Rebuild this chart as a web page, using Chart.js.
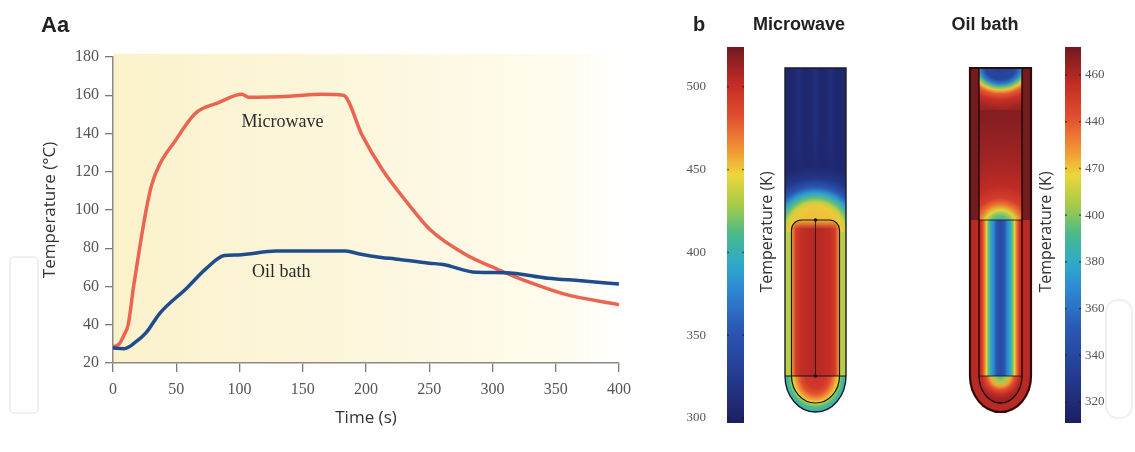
<!DOCTYPE html>
<html>
<head>
<meta charset="utf-8">
<script src="https://cdn.jsdelivr.net/npm/chart.js@4.4.1/dist/chart.umd.min.js"></script>
<style>
  html, body { margin: 0; padding: 0; background: #fff; }
  .box { position: absolute; top: 0; height: 452px; }
</style>
</head>
<body>
<div class="box" style="left:0;width:680px"><canvas id="tempChart"></canvas></div>
<div class="box" style="left:680px;width:455px"><canvas id="fieldChart"></canvas></div>
<script>
// panel A: heating curves
const timeMicrowave = [0, 5, 9, 12, 16.5, 22, 26.5, 30.5, 37, 49, 65, 83, 102, 107, 140, 165, 182, 197, 213, 233, 251, 278, 304, 330, 357, 400]
const tempMicrowave = [28.5, 30, 35, 40, 61, 84, 101, 113, 124, 136, 150.5, 156, 160.5, 159, 159.5, 160.5, 160, 139, 121, 103.5, 89.5, 77, 69, 62, 56, 50.5]
const timeOilBath = [0, 9, 18, 26, 37, 58, 74, 88, 99, 129, 184, 195, 212, 223, 250, 261, 287, 310, 344, 370, 400]
const tempOilBath = [27.8, 27.5, 31, 35.7, 46, 59, 69.6, 76.2, 76.5, 78.5, 78.5, 77, 75.2, 74.4, 72.2, 71.5, 67.4, 67.2, 64.3, 63, 61.3]
const timeTicks = [0, 50, 100, 150, 200, 250, 300, 350, 400]
const tempTicks = [20, 40, 60, 80, 100, 120, 140, 160, 180]
const labelText = ['Microwave', 'Oil bath']
const labelTime = [134, 133]
const labelTemp = [146, 67.5]

// panel B: simulated temperature fields (K)
const microwaveRange = [297, 524]
const oilBathRange = [311, 472]
const microwaveTicks = [300, 350, 400, 450, 500]
const oilBathTicks = [320, 340, 360, 380, 400, 420, 440, 460]
const oilBathTickLabels = ['320', '340', '360', '380', '400', '470', '440', '460']
const colourStops = [
    [0.00, '#1c1f5f'], [0.12, '#243a8e'], [0.25, '#2a58b4'], [0.35, '#2e86d2'],
    [0.42, '#2ea8cc'], [0.50, '#48b98e'], [0.58, '#a6cc48'], [0.66, '#ecd63a'],
    [0.73, '#f19236'], [0.81, '#e2512f'], [0.90, '#c52c26'], [1.00, '#6f1a1f']
]
// microwave tube: [distance px, K]
const mwAirTemp = 306
const mwGlow = [[0, 455], [26, 450], [30, 436], [34, 415], [39, 388], [45, 352], [54, 320], [66, 306]]
const mwRingTemp = 433
const mwColumn = [[0, 506], [0.6, 501], [0.82, 492], [0.92, 472], [1, 452]]
const mwBottom = [[0, 498], [10, 494], [15, 482], [19, 464], [22.5, 448], [24.5, 425], [27, 410], [30.5, 400]]
// oil bath tube
const oilTopWallTemp = 471
const oilLowWallTemp = 458
const oilUpperTemp = 468
const oilCap = [[0, 335], [12, 340], [16, 365], [19, 395], [22, 420], [26, 440], [32, 455], [42, 464], [55, 468]]
const oilGlow = [[0, 380], [10, 395], [16, 415], [22, 435], [28, 449], [40, 457], [65, 462], [110, 468]]
const oilLower = [[0, 342], [4, 350], [7, 368], [10, 382], [12, 396], [14, 415], [16, 432], [18, 446], [20, 455], [21.5, 460]]
const oilBottom = [[0, 390], [6, 405], [10, 425], [14, 442], [18, 455], [22, 462], [26, 465]]

const tube = { top: 68, zoneTop: 220, neck: 376, bottom: 412, hw: 30.5 }

Chart.defaults.font.family = '"Liberation Serif", serif'

const plotBackground = {
    id: 'plotBackground',
    beforeDraw(chart) {
        const { ctx, chartArea: a } = chart
        const g = ctx.createLinearGradient(a.left, 0, a.right + 30, 0)
        g.addColorStop(0, '#fbf2cb')
        g.addColorStop(0.45, '#fcf6dc')
        g.addColorStop(0.85, '#fefcee')
        g.addColorStop(1, 'rgba(255,255,255,0)')
        ctx.save()
        ctx.fillStyle = g
        ctx.fillRect(a.left, a.top - 3, a.right - a.left + 30, a.bottom - a.top + 3)
        ctx.restore()
    }
}

const curveLabels = {
    id: 'curveLabels',
    afterDatasetsDraw(chart) {
        const { ctx, scales: { x, y } } = chart
        ctx.save()
        ctx.font = '18px "Liberation Serif"'
        ctx.fillStyle = '#2b2b2b'
        ctx.textAlign = 'center'
        ctx.textBaseline = 'middle'
        labelText.forEach((t, i) => ctx.fillText(t, x.getPixelForValue(labelTime[i]), y.getPixelForValue(labelTemp[i])))
        ctx.font = 'bold 22px "Liberation Sans"'
        ctx.fillStyle = '#222'
        ctx.textAlign = 'left'
        ctx.textBaseline = 'alphabetic'
        ctx.fillText('Aa', 41, 32)
        ctx.strokeStyle = '#ececec'
        ctx.lineWidth = 1.5
        ctx.beginPath()
        ctx.roundRect(10, 257, 28, 156, 4)
        ctx.stroke()
        ctx.restore()
    }
}

new Chart(document.getElementById('tempChart'), {
    type: 'line',
    data: {
        datasets: [
            {
                label: 'Oil bath',
                data: timeOilBath.map((t, i) => ({ x: t, y: tempOilBath[i] })),
                borderColor: '#1f4c8c',
                borderWidth: 3.5,
                pointRadius: 0,
                cubicInterpolationMode: 'monotone'
            },
            {
                label: 'Microwave',
                data: timeMicrowave.map((t, i) => ({ x: t, y: tempMicrowave[i] })),
                borderColor: '#ea6451',
                borderWidth: 3.5,
                pointRadius: 0,
                cubicInterpolationMode: 'monotone'
            }
        ]
    },
    options: {
        responsive: true,
        maintainAspectRatio: false,
        animation: false,
        layout: { padding: { top: 57, right: 61, left: 0, bottom: 0 } },
        plugins: { legend: { display: false }, tooltip: { enabled: false } },
        scales: {
            x: {
                type: 'linear', min: 0, max: 400,
                afterFit: s => { s.height = 89 },
                afterBuildTicks: s => { s.ticks = timeTicks.map(v => ({ value: v })) },
                grid: { drawOnChartArea: false, tickLength: 9, color: '#7a7a7a', lineWidth: 1.3 },
                border: { color: '#8a8a8a', width: 1.5 },
                ticks: { padding: 8, color: '#555', font: { size: 16 } },
                title: {
                    display: true, text: 'Time (s)', color: '#333',
                    font: { family: '"Open Sans"', size: 17 },
                    padding: { top: 0, bottom: 24 }
                }
            },
            y: {
                min: 20, max: 180,
                afterFit: s => { s.width = 113 },
                afterBuildTicks: s => { s.ticks = tempTicks.map(v => ({ value: v })) },
                grid: { drawOnChartArea: false, tickLength: 8, color: '#7a7a7a', lineWidth: 1.3 },
                border: { color: '#8a8a8a', width: 1.5 },
                ticks: { padding: 6, color: '#555', font: { size: 16 } },
                title: {
                    display: true, text: 'Temperature (°C)', color: '#333',
                    font: { family: '"Open Sans"', size: 17 },
                    padding: { top: 40, bottom: 0 }
                }
            }
        }
    },
    plugins: [plotBackground, curveLabels]
})

function hexToRgb(h) {
    return [1, 3, 5].map(i => parseInt(h.slice(i, i + 2), 16))
}

function colourAt(t) {
    t = Math.min(1, Math.max(0, t))
    for (let i = 1; i < colourStops.length; i++) {
        if (t <= colourStops[i][0]) {
            const [t0, c0] = colourStops[i - 1]
            const [t1, c1] = colourStops[i]
            const f = (t - t0) / (t1 - t0)
            const a = hexToRgb(c0), b = hexToRgb(c1)
            return a.map((v, k) => Math.round(v + (b[k] - v) * f))
        }
    }
    return hexToRgb(colourStops[colourStops.length - 1][1])
}

function tempColour(T, scale, alpha) {
    const c = colourAt((T - scale.min) / (scale.max - scale.min))
    return alpha === undefined ? `rgb(${c})` : `rgba(${c},${alpha})`
}

function radial(ctx, cx, cy, stops, scale) {
    const R = stops[stops.length - 1][0]
    const g = ctx.createRadialGradient(cx, cy, 0, cx, cy, R)
    stops.forEach(([d, T]) => g.addColorStop(d / R, tempColour(T, scale)))
    return g
}

function horizontal(ctx, cx, half, stops, scale) {
    const g = ctx.createLinearGradient(cx - half, 0, cx + half, 0)
    const R = stops[stops.length - 1][0]
    stops.slice().reverse().forEach(([d, T]) => g.addColorStop(0.5 - d / R / 2, tempColour(T, scale)))
    stops.forEach(([d, T]) => g.addColorStop(0.5 + d / R / 2, tempColour(T, scale)))
    return g
}

function tubePath(ctx, cx) {
    const { top, neck, bottom, hw } = tube
    ctx.beginPath()
    ctx.moveTo(cx - hw, top)
    ctx.lineTo(cx + hw, top)
    ctx.lineTo(cx + hw, neck)
    ctx.ellipse(cx, neck, hw, bottom - neck, 0, 0, Math.PI)
    ctx.closePath()
}

function columnPath(ctx, cx, hw, top, depth, r) {
    const neck = tube.neck
    ctx.beginPath()
    ctx.moveTo(cx + hw, neck)
    ctx.lineTo(cx + hw, top + r)
    ctx.arcTo(cx + hw, top, cx + hw - r, top, r)
    ctx.lineTo(cx - hw + r, top)
    ctx.arcTo(cx - hw, top, cx - hw, top + r, r)
    ctx.lineTo(cx - hw, neck)
    ctx.ellipse(cx, neck, hw, depth, 0, Math.PI, 0, true)
    ctx.closePath()
}

function drawMicrowaveTube(ctx, cx, s) {
    const { top, zoneTop, neck, bottom, hw } = tube
    const w = 2 * hw
    ctx.save()
    tubePath(ctx, cx)
    ctx.clip()
    ctx.fillStyle = tempColour(mwAirTemp, s)
    ctx.fillRect(cx - hw, top, w, bottom - top)
    ctx.fillStyle = radial(ctx, cx, zoneTop + 12, mwGlow, s)
    ctx.fillRect(cx - hw, top, w, zoneTop + 12 - top)
    // faint lighter streaks in the air above the sample, fading out downwards
    const streakEnd = zoneTop - 45
    ;[-17, 0, 15].forEach(dx => {
        const g = ctx.createLinearGradient(cx + dx - 5, 0, cx + dx + 5, 0)
        g.addColorStop(0, tempColour(312, s, 0))
        g.addColorStop(0.5, tempColour(318, s, 0.7))
        g.addColorStop(1, tempColour(312, s, 0))
        ctx.fillStyle = g
        for (let yy = top; yy < streakEnd; yy += 3) {
            ctx.globalAlpha = Math.min(1, (streakEnd - yy) / 45)
            ctx.fillRect(cx + dx - 5, yy, 10, 3)
        }
        ctx.globalAlpha = 1
    })
    ctx.fillStyle = tempColour(mwRingTemp, s)
    ctx.fillRect(cx - hw, zoneTop + 12, w, neck - zoneTop - 12)
    ctx.save()
    ctx.translate(cx, neck)
    ctx.scale(1, (bottom - neck) / hw)
    ctx.fillStyle = radial(ctx, 0, 0, mwBottom, s)
    ctx.fillRect(-hw, 0, w, hw + 2)
    ctx.restore()
    // reaction column
    ctx.save()
    columnPath(ctx, cx, 24, zoneTop, 27, 10)
    ctx.clip()
    ctx.fillStyle = horizontal(ctx, cx, 24, mwColumn.map(([f, T]) => [f * 24, T]), s)
    ctx.fillRect(cx - 24, zoneTop, 48, neck - zoneTop)
    const g = ctx.createLinearGradient(0, zoneTop, 0, zoneTop + 9)
    g.addColorStop(0, tempColour(455, s, 1))
    g.addColorStop(1, tempColour(455, s, 0))
    ctx.fillStyle = g
    ctx.fillRect(cx - 24, zoneTop, 48, 9)
    ctx.restore()
    ctx.restore()

    ctx.save()
    ctx.strokeStyle = '#151515'
    ctx.lineWidth = 1.2
    columnPath(ctx, cx, 24, zoneTop, 27, 10)
    ctx.stroke()
    ctx.beginPath()
    ctx.moveTo(cx - hw, neck)
    ctx.lineTo(cx + hw, neck)
    ctx.stroke()
    ctx.strokeStyle = 'rgba(50,8,8,0.8)'
    ctx.lineWidth = 1
    ctx.beginPath()
    ctx.moveTo(cx, zoneTop)
    ctx.lineTo(cx, neck)
    ctx.stroke()
    ctx.fillStyle = '#111'
    ;[zoneTop, neck].forEach(yy => { ctx.beginPath(); ctx.arc(cx, yy, 1.8, 0, Math.PI * 2); ctx.fill() })
    ctx.strokeStyle = '#1a1a24'
    ctx.lineWidth = 1.4
    tubePath(ctx, cx)
    ctx.stroke()
    ctx.restore()
}

function drawOilTube(ctx, cx, s) {
    const { top, zoneTop, neck, bottom, hw } = tube
    const ihw = 21.5, depth = 27, capSplit = 110, sx = 1.25
    const w = 2 * hw
    ctx.save()
    tubePath(ctx, cx)
    ctx.clip()
    ctx.fillStyle = tempColour(oilTopWallTemp, s)
    ctx.fillRect(cx - hw, top, w, bottom - top)
    ctx.fillStyle = tempColour(oilLowWallTemp, s)
    ctx.fillRect(cx - hw, zoneTop, w, bottom - zoneTop)
    // upper (vapour) section
    ctx.fillStyle = tempColour(oilUpperTemp, s)
    ctx.fillRect(cx - ihw, top, 2 * ihw, zoneTop - top)
    ctx.fillStyle = radial(ctx, cx, zoneTop + 6, oilGlow, s)
    ctx.fillRect(cx - ihw, capSplit, 2 * ihw, zoneTop - capSplit)
    ctx.save()
    ctx.translate(cx, top)
    ctx.scale(sx, 1)
    ctx.fillStyle = radial(ctx, 0, 0, oilCap, s)
    ctx.fillRect(-ihw / sx, 0, 2 * ihw / sx, capSplit - top)
    ctx.restore()
    // lower (liquid) section
    ctx.fillStyle = horizontal(ctx, cx, ihw, oilLower, s)
    ctx.fillRect(cx - ihw, zoneTop, 2 * ihw, neck - zoneTop)
    ctx.save()
    ctx.beginPath()
    ctx.ellipse(cx, neck, ihw, depth, 0, 0, Math.PI)
    ctx.closePath()
    ctx.clip()
    ctx.fillStyle = radial(ctx, cx, neck, oilBottom, s)
    ctx.fillRect(cx - ihw, neck, 2 * ihw, depth + 1)
    ctx.restore()
    ctx.restore()

    ctx.save()
    ctx.strokeStyle = '#1a0606'
    ctx.lineWidth = 1.3
    ctx.beginPath()
    ctx.moveTo(cx - ihw, top)
    ctx.lineTo(cx - ihw, neck)
    ctx.ellipse(cx, neck, ihw, depth, 0, Math.PI, 0, true)
    ctx.lineTo(cx + ihw, top)
    ctx.stroke()
    ctx.lineWidth = 1
    ctx.strokeStyle = 'rgba(30,20,20,0.85)'
    ;[zoneTop, neck].forEach(yy => { ctx.beginPath(); ctx.moveTo(cx - ihw, yy); ctx.lineTo(cx + ihw, yy); ctx.stroke() })
    ctx.strokeStyle = '#2e0a0a'
    ctx.lineWidth = 2.2
    tubePath(ctx, cx)
    ctx.stroke()
    ctx.restore()
}

function drawColourBar(ctx, x, width, scale) {
    const top = scale.getPixelForValue(scale.max)
    const bottom = scale.getPixelForValue(scale.min)
    const g = ctx.createLinearGradient(0, bottom, 0, top)
    colourStops.forEach(([t, c]) => g.addColorStop(t, c))
    ctx.fillStyle = g
    ctx.fillRect(x, top, width, bottom - top)
    ctx.fillStyle = 'rgba(20,20,20,0.55)'
    scale.ticks.forEach(t => {
        const yy = scale.getPixelForValue(t.value)
        ctx.fillRect(x, yy - 0.75, 2, 1.5)
        ctx.fillRect(x + width - 2, yy - 0.75, 2, 1.5)
    })
}

const tubeFields = {
    id: 'tubeFields',
    afterDraw(chart) {
        const { ctx, chartArea: a, scales: { yMw, yOil } } = chart
        ctx.save()
        drawColourBar(ctx, a.left, 17, yMw)
        drawColourBar(ctx, a.right - 16, 16, yOil)
        drawMicrowaveTube(ctx, 135.5, yMw)
        drawOilTube(ctx, 320.5, yOil)

        ctx.fillStyle = '#222'
        ctx.textBaseline = 'alphabetic'
        ctx.font = 'bold 20px "Liberation Sans"'
        ctx.textAlign = 'left'
        ctx.fillText('b', 13, 31)
        ctx.font = 'bold 18px "Liberation Sans"'
        ctx.textAlign = 'center'
        ctx.fillText('Microwave', 119, 30)
        ctx.fillText('Oil bath', 305, 30)

        ctx.font = '16px "Open Sans"'
        ctx.fillStyle = '#333'
        ctx.textBaseline = 'middle'
        ;[87, 366].forEach(xx => {
            ctx.save()
            ctx.translate(xx, 232)
            ctx.rotate(-Math.PI / 2)
            ctx.fillText('Temperature (K)', 0, 0)
            ctx.restore()
        })
        ctx.strokeStyle = '#ececec'
        ctx.lineWidth = 1.5
        ctx.beginPath()
        ctx.roundRect(426, 300, 26, 118, 12)
        ctx.stroke()
        ctx.restore()
    }
}

new Chart(document.getElementById('fieldChart'), {
    type: 'scatter',
    data: { datasets: [] },
    options: {
        responsive: true,
        maintainAspectRatio: false,
        animation: false,
        layout: { padding: { top: 47, bottom: 29, left: 0, right: 0 } },
        plugins: { legend: { display: false }, tooltip: { enabled: false } },
        scales: {
            x: { display: false, min: 0, max: 1 },
            yMw: {
                position: 'left',
                min: microwaveRange[0], max: microwaveRange[1],
                afterFit: s => { s.width = 47 },
                afterBuildTicks: s => { s.ticks = microwaveTicks.map(v => ({ value: v })) },
                grid: { display: false, drawTicks: false },
                border: { display: false },
                ticks: { padding: 21, color: '#555', font: { size: 13 } }
            },
            yOil: {
                position: 'right',
                min: oilBathRange[0], max: oilBathRange[1],
                afterFit: s => { s.width = 54 },
                afterBuildTicks: s => { s.ticks = oilBathTicks.map(v => ({ value: v })) },
                grid: { display: false, drawTicks: false },
                border: { display: false },
                ticks: {
                    padding: 4, color: '#555', font: { size: 13 },
                    callback: v => oilBathTickLabels[oilBathTicks.indexOf(v)]
                }
            }
        }
    },
    plugins: [tubeFields]
})
</script>
</body>
</html>
